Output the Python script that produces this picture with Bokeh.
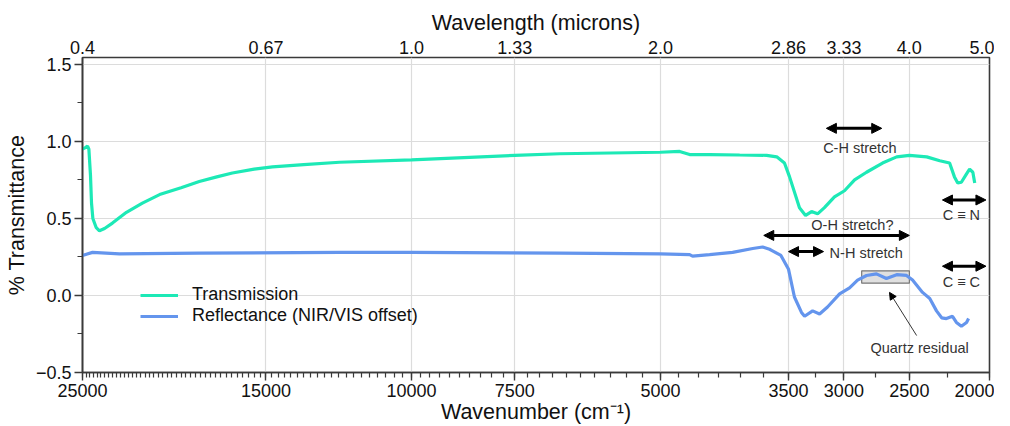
from bokeh.plotting import figure
from bokeh.models import (Range1d, FixedTicker, CustomJSTickFormatter, LogAxis,
                          Arrow, NormalHead, Label)
from bokeh.embed import file_html
from bokeh.resources import INLINE

# ---------------- data ----------------
trans_wn = [25000, 24800, 24650, 24560, 24450, 24380, 24290, 24060, 23850, 23510, 23000,
            22120, 21160, 20170, 19000, 18060, 17200, 16470, 15500, 14730, 13500, 12220,
            10000, 7500, 6620, 5000, 4740, 4610, 4360, 4010, 3720, 3617, 3540, 3490,
            3395, 3338, 3283, 3228, 3167, 3080, 2995, 2912, 2817, 2694, 2590, 2500,
            2382, 2297, 2235, 2205, 2185, 2163, 2132, 2114, 2095, 2084]
trans_val = [0.95, 0.96, 0.97, 0.95, 0.78, 0.60, 0.50, 0.44, 0.42, 0.435, 0.47,
             0.54, 0.60, 0.655, 0.70, 0.74, 0.77, 0.795, 0.82, 0.835, 0.85, 0.865,
             0.88, 0.91, 0.92, 0.93, 0.935, 0.915, 0.915, 0.912, 0.91, 0.90, 0.86, 0.77,
             0.57, 0.52, 0.545, 0.53, 0.57, 0.64, 0.68, 0.75, 0.80, 0.86, 0.90, 0.91,
             0.90, 0.875, 0.86, 0.77, 0.73, 0.735, 0.79, 0.82, 0.80, 0.73]

refl_wn = [25000, 24310, 22560, 18060, 12220, 10000, 6620, 5000, 4610, 4572, 4360,
           4090, 3867, 3762, 3690, 3660, 3575, 3500, 3443, 3376, 3347, 3273, 3210,
           3140, 3036, 2953, 2888, 2817, 2740, 2665, 2590, 2520, 2478, 2410, 2362,
           2318, 2285, 2255, 2217, 2193, 2163, 2132, 2120]
refl_val = [0.26, 0.28, 0.27, 0.275, 0.28, 0.28, 0.275, 0.27, 0.265, 0.255, 0.265,
            0.28, 0.305, 0.315, 0.30, 0.29, 0.26, 0.17, -0.01, -0.11, -0.135, -0.10, -0.12,
            -0.075, 0.01, 0.05, 0.10, 0.13, 0.14, 0.11, 0.135, 0.13, 0.10, 0.02, -0.02,
            -0.10, -0.145, -0.15, -0.135, -0.175, -0.20, -0.175, -0.15]

wn_ticks = [25000, 15000, 10000, 7500, 5000, 3500, 3000, 2500, 2000]
wn_tick_labels = ["25000", "15000", "10000", "7500", "5000", "3500", "3000", "2500", "2000"]
wl_tick_labels = ["0.4", "0.67", "1.0", "1.33", "2.0", "2.86", "3.33", "4.0", "5.0"]
y_ticks = [-0.5, 0.0, 0.5, 1.0, 1.5]
y_tick_labels = ["\u22120.5", "0.0", "0.5", "1.0", "1.5"]
y_minor = [-0.25, 0.25, 0.75, 1.25]

series_names = ["Transmission", "Reflectance (NIR/VIS offset)"]
series_colors = ["#1DE9B6", "#6495ED"]


def to_um(wns):
    return [1e4 / w for w in wns]


FONT = "Liberation Sans"
x_ticks = to_um(wn_ticks)
x_minor = to_um(list(range(2000, 25001, 250)))

LOOKUP = """
let best = 0;
for (let i = 0; i < tv.length; i++) {
  if (Math.abs(tv[i] - tick) < Math.abs(tv[best] - tick)) best = i;
}
return lb[best];
"""

p = figure(width=994, height=426, x_axis_type="log",
           x_range=Range1d(0.4, 5.0), y_range=Range1d(-0.5, 1.545),
           output_backend="svg", toolbar_location=None,
           min_border_left=82, min_border_right=5, min_border_top=57, min_border_bottom=54)

p.outline_line_color = "#3a3a3a"
p.outline_line_width = 1.6
p.background_fill_color = "white"
p.border_fill_color = "white"

# bottom axis
xa = p.xaxis[0]
xa.ticker = FixedTicker(ticks=x_ticks, minor_ticks=x_minor)
xa.formatter = CustomJSTickFormatter(args=dict(tv=x_ticks, lb=wn_tick_labels), code=LOOKUP)
xa.axis_label = "Wavenumber (cm\u207b\u00b9)"

# left axis
ya = p.yaxis[0]
ya.ticker = FixedTicker(ticks=y_ticks, minor_ticks=y_minor)
ya.formatter = CustomJSTickFormatter(args=dict(tv=y_ticks, lb=y_tick_labels), code=LOOKUP)
ya.axis_label = "% Transmittance"

# top axis
top = LogAxis(ticker=FixedTicker(ticks=x_ticks, minor_ticks=[]),
              formatter=CustomJSTickFormatter(args=dict(tv=x_ticks, lb=wl_tick_labels), code=LOOKUP),
              axis_label="Wavelength (microns)")
p.add_layout(top, "above")

for ax in (xa, ya, top):
    ax.axis_line_color = "#3a3a3a"
    ax.axis_line_width = 1.6
    ax.major_tick_line_color = "#3a3a3a"
    ax.minor_tick_line_color = "#3a3a3a"
    ax.major_tick_line_width = 1.4
    ax.minor_tick_line_width = 1.2
    ax.major_tick_out = 8
    ax.major_tick_in = 0
    ax.minor_tick_out = 5
    ax.minor_tick_in = 0
    ax.major_label_text_font = FONT
    ax.major_label_text_font_size = "18px"
    ax.major_label_text_color = "#111111"
    ax.axis_label_text_font = FONT
    ax.axis_label_text_font_size = "21.5px"
    ax.axis_label_text_font_style = "normal"
    ax.axis_label_text_color = "#111111"

xa.major_label_standoff = 3
xa.axis_label_standoff = 0
ya.major_label_standoff = 3
ya.axis_label_standoff = 4

top.major_tick_out = 0
top.minor_tick_out = 0
top.axis_line_color = None
top.major_label_standoff = 4
top.axis_label_standoff = 3

p.xgrid.grid_line_color = "#dcdcdc"
p.ygrid.grid_line_color = "#dcdcdc"
p.xgrid.grid_line_width = 1.2
p.ygrid.grid_line_width = 1.2

# quartz residual box (behind curves)
p.quad(left=[1e4 / 2855], right=[1e4 / 2500], bottom=[0.08], top=[0.16],
       fill_color="#dddddd", fill_alpha=0.9, line_color="#777777", line_width=1.2)

p.line(to_um(trans_wn), trans_val, line_color=series_colors[0], line_width=3.2,
       legend_label=series_names[0])
p.line(to_um(refl_wn), refl_val, line_color=series_colors[1], line_width=3.2,
       legend_label=series_names[1])

leg = p.legend[0]
leg.location = (58, 46)
leg.border_line_color = None
leg.background_fill_alpha = 0
leg.label_text_font = FONT
leg.label_text_font_size = "18px"
leg.label_text_color = "#111111"
leg.glyph_width = 38
leg.glyph_height = 16
leg.label_height = 16
leg.label_standoff = 14
leg.spacing = -8
leg.padding = 0
leg.margin = 0


def dbl_arrow(wn1, wn2, y):
    p.add_layout(Arrow(start=NormalHead(size=10, fill_color="black", line_color="black"),
                       end=NormalHead(size=10, fill_color="black", line_color="black"),
                       x_start=1e4 / wn1, y_start=y, x_end=1e4 / wn2, y_end=y,
                       line_width=3, line_color="black"))


def note(wn, y, text, align="center"):
    p.add_layout(Label(x=1e4 / wn, y=y, text=text, text_align=align, text_baseline="middle",
                       text_font=FONT, text_font_size="14.5px", text_color="#333333"))


dbl_arrow(3150, 2700, 1.085)
note(2870, 0.96, "C-H stretch")
dbl_arrow(3750, 2500, 0.39)
note(2930, 0.455, "O-H stretch?")
dbl_arrow(3500, 3175, 0.285)
note(3122, 0.275, "N-H stretch", align="left")
dbl_arrow(2280, 2020, 0.62)
note(2163, 0.52, "C \u2261 N")
dbl_arrow(2280, 2020, 0.19)
note(2163, 0.085, "C \u2261 C")

p.add_layout(Arrow(end=NormalHead(size=7, fill_color="black", line_color="black"),
                   x_start=1e4 / 2450, y_start=-0.26, x_end=1e4 / 2642, y_end=0.02,
                   line_width=0.8, line_color="black"))
note(2430, -0.34, "Quartz residual")

open("out.html", "w").write(file_html(p, INLINE))
